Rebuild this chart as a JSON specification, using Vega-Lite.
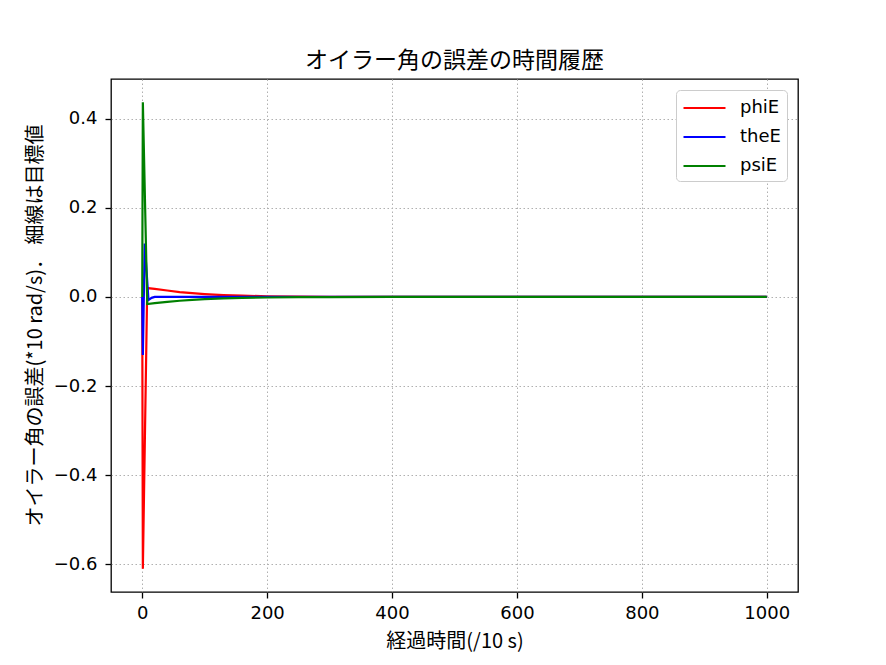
{
  "$schema": "https://vega.github.io/schema/vega-lite/v6.json",
  "width": 687,
  "height": 513,
  "autosize": "none",
  "padding": {"left": 111, "top": 79, "right": 88, "bottom": 73},
  "background": "white",
  "title": {
    "text": "オイラー角の誤差の時間履歴",
    "font": "Noto Sans CJK JP",
    "fontSize": 23,
    "fontWeight": "normal",
    "color": "black",
    "offset": 6
  },
  "config": {
    "view": {"stroke": "black", "strokeWidth": 1.3},
    "axis": {
      "grid": true,
      "gridColor": "#b0b0b0",
      "gridDash": [1.5, 2.5],
      "gridWidth": 1,
      "domain": false,
      "tickColor": "black",
      "tickSize": 6,
      "tickWidth": 1.3,
      "labelFont": "DejaVu Sans",
      "labelFontSize": 18,
      "labelColor": "black",
      "titleFont": "Noto Sans CJK JP",
      "titleFontSize": 20,
      "titleFontWeight": "normal",
      "titleColor": "black"
    }
  },
  "data": {
    "values": [
      {"t": 0, "s": "phiE", "v": 0},
      {"t": 1, "s": "phiE", "v": -0.61},
      {"t": 8, "s": "phiE", "v": 0.02},
      {"t": 20, "s": "phiE", "v": 0.018},
      {"t": 40, "s": "phiE", "v": 0.0145},
      {"t": 60, "s": "phiE", "v": 0.011},
      {"t": 80, "s": "phiE", "v": 0.0085},
      {"t": 100, "s": "phiE", "v": 0.0065},
      {"t": 130, "s": "phiE", "v": 0.0043},
      {"t": 160, "s": "phiE", "v": 0.0028},
      {"t": 200, "s": "phiE", "v": 0.0015},
      {"t": 250, "s": "phiE", "v": 0.0007},
      {"t": 300, "s": "phiE", "v": 0.0003},
      {"t": 400, "s": "phiE", "v": 0.0001},
      {"t": 500, "s": "phiE", "v": 0},
      {"t": 1000, "s": "phiE", "v": 0},
      {"t": 0, "s": "theE", "v": 0},
      {"t": 1, "s": "theE", "v": -0.13},
      {"t": 4, "s": "theE", "v": 0.12},
      {"t": 10, "s": "theE", "v": -0.007},
      {"t": 15, "s": "theE", "v": -0.002},
      {"t": 20, "s": "theE", "v": 0.0},
      {"t": 60, "s": "theE", "v": 0.0},
      {"t": 1000, "s": "theE", "v": 0},
      {"t": 0, "s": "psiE", "v": 0},
      {"t": 1, "s": "psiE", "v": 0.437},
      {"t": 8, "s": "psiE", "v": -0.016},
      {"t": 20, "s": "psiE", "v": -0.014},
      {"t": 40, "s": "psiE", "v": -0.011},
      {"t": 60, "s": "psiE", "v": -0.0085},
      {"t": 80, "s": "psiE", "v": -0.0065},
      {"t": 100, "s": "psiE", "v": -0.005},
      {"t": 130, "s": "psiE", "v": -0.0034},
      {"t": 160, "s": "psiE", "v": -0.0022},
      {"t": 200, "s": "psiE", "v": -0.0012},
      {"t": 250, "s": "psiE", "v": -0.0005},
      {"t": 300, "s": "psiE", "v": -0.0002},
      {"t": 400, "s": "psiE", "v": 0},
      {"t": 1000, "s": "psiE", "v": 0}
    ]
  },
  "mark": {"type": "line", "strokeWidth": 2.2, "clip": true},
  "encoding": {
    "x": {
      "field": "t",
      "type": "quantitative",
      "scale": {"domain": [-50, 1050], "nice": false, "zero": false},
      "axis": {
        "values": [0, 200, 400, 600, 800, 1000],
        "format": "d",
        "title": "経過時間(/10 s)",
        "labelPadding": 6,
        "titlePadding": 9
      }
    },
    "y": {
      "field": "v",
      "type": "quantitative",
      "scale": {"domain": [-0.662, 0.489], "nice": false, "zero": false},
      "axis": {
        "values": [-0.6, -0.4, -0.2, 0, 0.2, 0.4],
        "format": ".1f",
        "title": "オイラー角の誤差(*10 rad/s)． 細線は目標値",
        "labelPadding": 8,
        "titlePadding": 8,
        "titleY": 246
      }
    },
    "color": {
      "field": "s",
      "type": "nominal",
      "scale": {"domain": ["phiE", "theE", "psiE"], "range": ["#ff0000", "#0000ff", "#008000"]},
      "legend": {
        "title": null,
        "orient": "none",
        "legendX": 565,
        "legendY": 11,
        "symbolType": "M-1,0H3",
        "symbolSize": 441,
        "symbolStrokeWidth": 2.2,
        "labelFont": "DejaVu Sans",
        "labelFontSize": 18,
        "labelColor": "black",
        "rowPadding": 8,
        "labelOffset": 34,
        "strokeColor": "#cccccc",
        "cornerRadius": 4,
        "padding": 6,
        "fillColor": "white"
      }
    },
    "order": {"field": "t", "type": "quantitative"}
  }
}
